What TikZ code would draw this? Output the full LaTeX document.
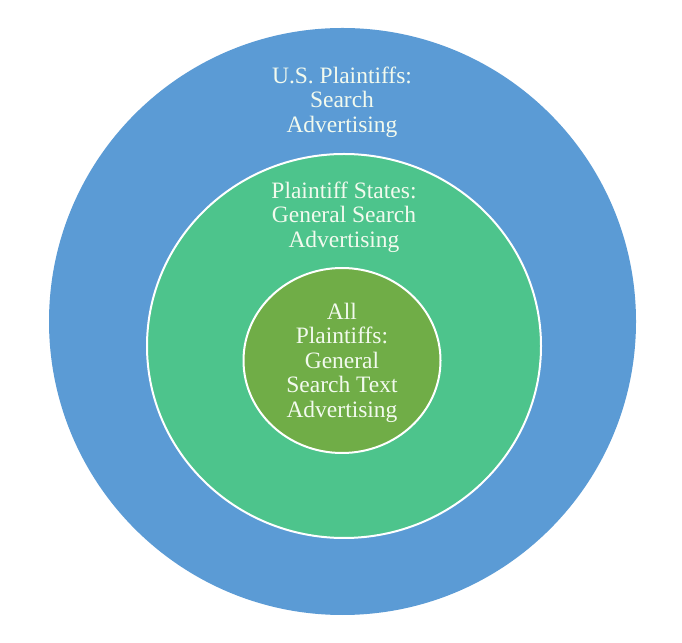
\documentclass[tikz,border=0pt]{standalone}
\usepackage{fontspec}
\setmainfont{Liberation Serif}
\definecolor{outerblue}{HTML}{5B9BD5}
\definecolor{midgreen}{HTML}{4DC48C}
\definecolor{innergreen}{HTML}{70AD47}
\definecolor{txt}{HTML}{F2FAEE}
\tikzset{
  lbl/.style={text=txt, align=center, font=\fontsize{23.5}{24.5}\selectfont, inner sep=0pt},
  ring/.style={draw=white, line width=2pt}
}
\begin{document}
\begin{tikzpicture}[x=1pt,y=1pt]
\useasboundingbox (0,0) rectangle (682,642);
\fill[white] (0,0) rectangle (682,642);
\fill[outerblue] (342.5,320.5) ellipse [x radius=293.5, y radius=293.5];
\draw[ring, fill=midgreen] (344,296) ellipse [x radius=197, y radius=192];
\draw[ring, fill=innergreen] (342,281.5) ellipse [x radius=98.5, y radius=92.5];
\node[lbl] (outer) at (342,540) {U.S. Plaintiffs:\\Search\\Advertising};
\node[lbl] (mid) at (344,425) {Plaintiff States:\\General Search\\Advertising};
\node[lbl] (inner) at (342,279.5) {All\\Plaintiffs:\\General\\Search Text\\Advertising};
\end{tikzpicture}
\end{document}
